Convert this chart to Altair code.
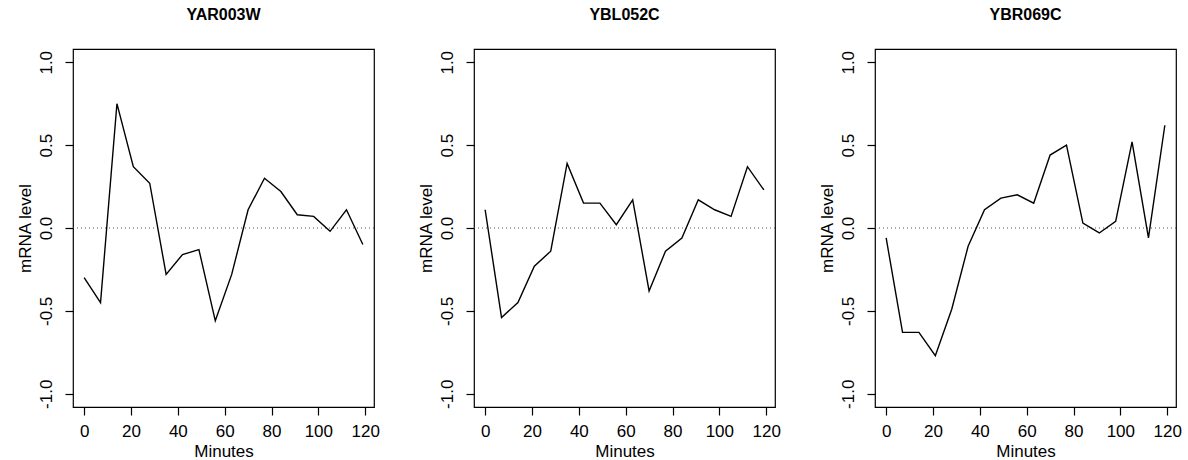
import altair as alt
import pandas as pd

# Sampling times (minutes) and expression profiles for three yeast genes
minutes = [0, 7, 14, 21, 28, 35, 42, 49, 56, 63, 70, 77, 84, 91, 98, 105, 112, 119]
genes = ["YAR003W", "YBL052C", "YBR069C"]
yar003w = [-0.30, -0.45, 0.75, 0.37, 0.27, -0.28, -0.16, -0.13, -0.56, -0.28,
           0.11, 0.30, 0.22, 0.08, 0.07, -0.02, 0.11, -0.10]
ybl052c = [0.11, -0.54, -0.45, -0.23, -0.14, 0.39, 0.15, 0.15, 0.02, 0.17,
           -0.38, -0.14, -0.06, 0.17, 0.11, 0.07, 0.37, 0.23]
ybr069c = [-0.06, -0.63, -0.63, -0.77, -0.49, -0.11, 0.11, 0.18, 0.20, 0.15,
           0.44, 0.50, 0.03, -0.03, 0.04, 0.52, -0.06, 0.62]
x_ticks = [0, 20, 40, 60, 80, 100, 120]
y_ticks = [-1.0, -0.5, 0.0, 0.5, 1.0]

profiles = dict(zip(genes, [yar003w, ybl052c, ybr069c]))

FONT = "Liberation Sans"
W, H = 301, 358
# Axis ranges padded by 4% on each side
x_dom = [-0.04 * 119, 119 * 1.04]
y_dom = [-1.08, 1.08]


def panel(gene):
    df = pd.DataFrame({"minutes": minutes, "level": profiles[gene]})
    x = alt.X(
        "minutes:Q",
        scale=alt.Scale(domain=x_dom, nice=False, zero=False),
        axis=alt.Axis(values=x_ticks, title="Minutes", format="d"),
    )
    y = alt.Y(
        "level:Q",
        scale=alt.Scale(domain=y_dom, nice=False, zero=False),
        axis=alt.Axis(
            values=y_ticks,
            title="mRNA level",
            labelAngle=-90,
            labelAlign="center",
            labelBaseline="bottom",
            labelExpr="datum.value < 0 ? '-' + format(-datum.value, '.1f') : format(datum.value, '.1f')",
        ),
    )
    line = alt.Chart(df).mark_line(color="black", strokeWidth=1.4).encode(x=x, y=y)
    zero = (
        alt.Chart(pd.DataFrame({"level": [0.0]}))
        .mark_rule(color="#555555", strokeWidth=1.1, strokeDash=[1, 3])
        .encode(y=alt.Y("level:Q"), x=alt.value(0), x2=alt.value(W))
    )
    return alt.layer(zero, line).properties(
        width=W,
        height=H,
        title=alt.TitleParams(
            gene, font=FONT, fontSize=16, fontWeight="bold", color="black",
            anchor="middle", baseline="alphabetic", offset=13,
        ),
    )


chart = (
    alt.hconcat(*[panel(g) for g in genes], spacing=36)
    .properties(padding={"left": 15, "top": 6, "right": 0, "bottom": 0}, background="white")
    .configure_view(stroke="black", strokeWidth=1.2)
    .configure_axis(
        domain=False,
        grid=False,
        tickColor="black",
        tickWidth=1.2,
        tickSize=8,
        labelFont=FONT,
        labelFontSize=17,
        labelColor="black",
        titleFont=FONT,
        titleFontSize=17,
        titleFontWeight="normal",
        titleColor="black",
    )
    .configure_axisX(labelPadding=8, titlePadding=4)
    .configure_axisY(labelPadding=10, titlePadding=3)
)

chart.save("out.html", embed_options={"renderer": "svg", "actions": False})
